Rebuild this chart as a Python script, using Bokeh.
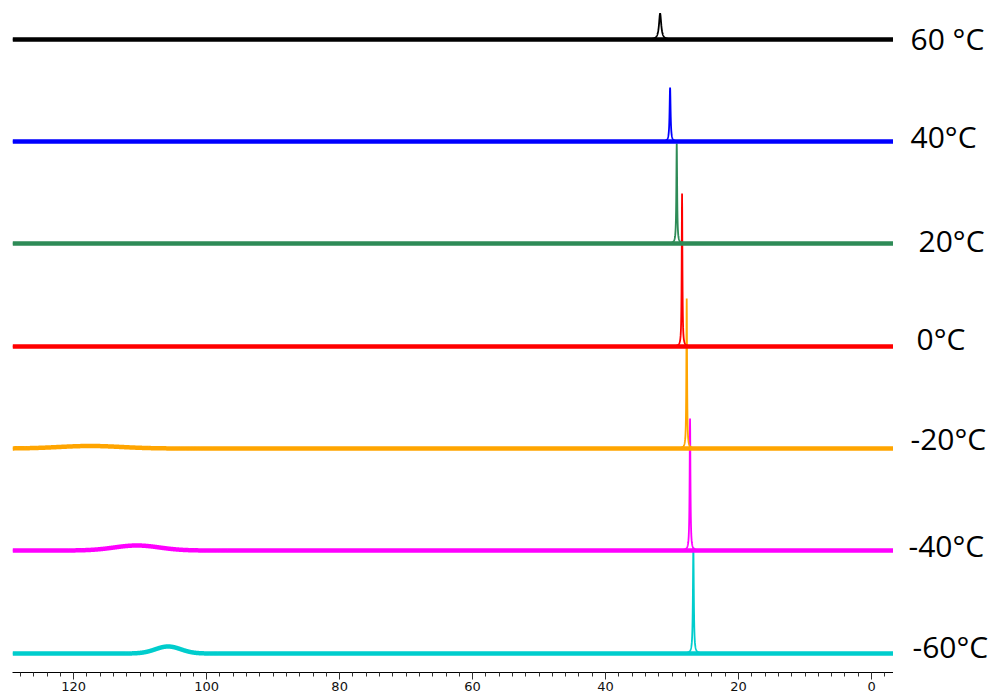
import numpy as np
from bokeh.plotting import figure
from bokeh.layouts import row
from bokeh.models import Range1d, FixedTicker, ColumnDataSource
from bokeh.core.properties import value
from bokeh.embed import file_html
from bokeh.resources import INLINE

# ---- data ----
labels = ["60 °C", "40°C", "20°C", "0°C", "-20°C", "-40°C", "-60°C"]
colors = ["#000000", "#0000ff", "#2e8b57", "#ff0000", "#ffa500", "#ff00ff", "#00cdcd"]
baseline = [633, 531, 429, 326, 224, 122, 19]           # vertical stacking offset of each trace
peak_ppm = [31.8, 30.3, 29.3, 28.5, 27.8, 27.3, 26.8]   # sharp resonance position
peak_height = [26, 54, 100, 153, 150, 132, 106]         # sharp resonance intensity
peak_fwhm = [0.40, 0.18, 0.14, 0.12, 0.12, 0.14, 0.16]  # ppm
hump_ppm = [None, None, None, None, 117.5, 110.5, 105.8]
hump_height = [0, 0, 0, 0, 2.5, 5.0, 7.0]
hump_fwhm = [10, 10, 10, 10, 11.0, 8.0, 4.5]

major_ticks = [0, 20, 40, 60, 80, 100, 120]
minor_ticks = list(range(-2, 130, 2))

# ---- label placement (style) ----
label_x = [17, 17, 25, 23, 17, 15, 19]
label_y = [634, 536, 432, 334, 234, 127, 26]

x_lo, x_hi = -3.3, 129.2
ppm = np.arange(x_lo, x_hi, 0.02)
yr = Range1d(0, 672)

p = figure(width=893, height=698, output_backend="svg", toolbar_location=None,
           x_range=Range1d(x_hi, x_lo), y_range=yr,
           min_border_left=12, min_border_right=0, min_border_top=0, min_border_bottom=26)
p.outline_line_color = None
p.grid.visible = False
p.yaxis.visible = False

ax = p.xaxis[0]
ax.ticker = FixedTicker(ticks=major_ticks, minor_ticks=minor_ticks)
ax.axis_line_color = "#000000"
ax.major_tick_in = 0
ax.major_tick_out = 7
ax.minor_tick_in = 0
ax.minor_tick_out = 4
ax.major_tick_line_color = "#333333"
ax.minor_tick_line_color = "#333333"
ax.major_label_standoff = 2
ax.major_label_text_font = "DejaVu Sans"
ax.major_label_text_font_size = "13px"
ax.major_label_text_color = "#111111"

for i in reversed(range(len(labels))):
    g = peak_fwhm[i] / 2.0
    sharp = peak_height[i] * g * g / ((ppm - peak_ppm[i]) ** 2 + g * g)
    broad = np.zeros_like(ppm)
    if hump_ppm[i] is not None and hump_height[i] > 0:
        s = hump_fwhm[i] / 2.355
        broad = hump_height[i] * np.exp(-0.5 * ((ppm - hump_ppm[i]) / s) ** 2)
    base = baseline[i]
    p.line(ppm, broad + base, line_color=colors[i], line_width=4.5)
    p.line(ppm, broad + sharp + base, line_color=colors[i], line_width=1.8)

q = figure(width=97, height=698, output_backend="svg", toolbar_location=None,
           x_range=Range1d(0, 97), y_range=yr,
           min_border_left=0, min_border_right=0, min_border_top=0, min_border_bottom=26)
q.outline_line_color = None
q.grid.visible = False
q.axis.visible = False
src = ColumnDataSource(dict(x=label_x, y=label_y, t=labels))
q.text(x="x", y="y", text="t", source=src, text_font=value("Open Sans"),
       text_font_size="30px", text_color="#000000", text_baseline="middle", text_align="left")

open("out.html", "w").write(file_html(row(p, q, spacing=0), INLINE))
